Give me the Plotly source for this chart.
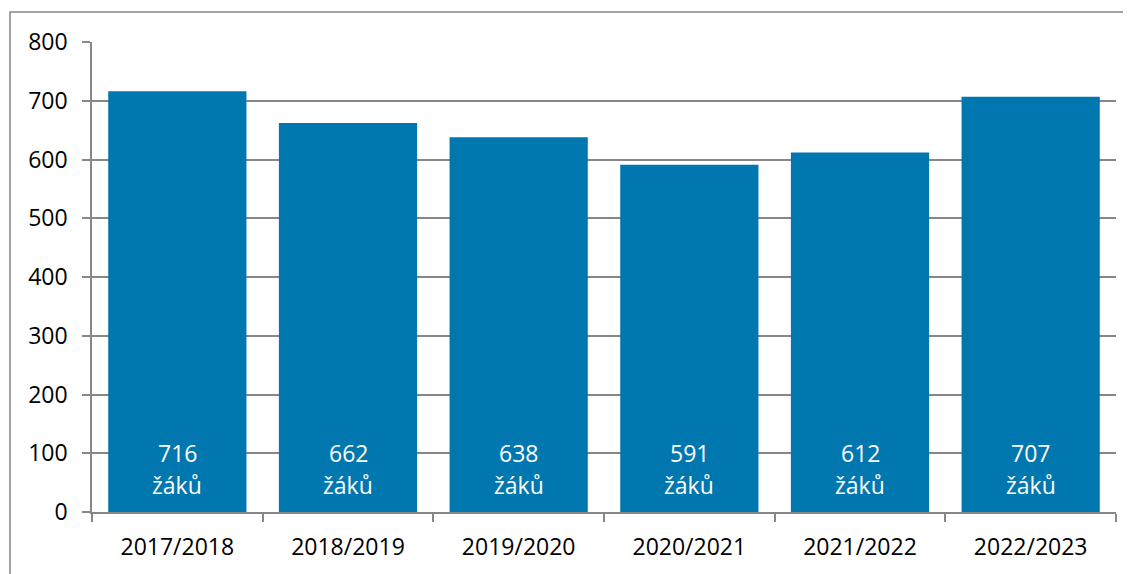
import plotly.graph_objects as go

years = ["2017/2018", "2018/2019", "2019/2020", "2020/2021", "2021/2022", "2022/2023"]
students = [716, 662, 638, 591, 612, 707]
unit_label = "žáků"
y_ticks = [0, 100, 200, 300, 400, 500, 600, 700, 800]

FONT = "Open Sans"
GRAY = "#878787"

fig = go.Figure()
fig.add_trace(go.Bar(
    x=years, y=students,
    marker=dict(color="#0077ae", line=dict(width=0)),
    hoverinfo="x+y",
))

for yr, v in zip(years, students):
    fig.add_annotation(x=yr, y=0, text=str(v), showarrow=False, yanchor="middle",
                       yshift=59, font=dict(family=FONT, size=23, color="white"))
    fig.add_annotation(x=yr, y=0, text=unit_label, showarrow=False, yanchor="middle",
                       yshift=27, font=dict(family=FONT, size=23, color="white"))

fig.update_layout(
    width=1123, height=566,
    margin=dict(l=84, r=15, t=34, b=62),
    paper_bgcolor="white", plot_bgcolor="white",
    bargap=0.19,
    showlegend=False,
    font=dict(family=FONT, size=23, color="black"),
    xaxis=dict(
        type="category", showgrid=False,
        showline=True, linecolor=GRAY, linewidth=1.5,
        ticks="outside", tickson="boundaries", ticklen=8, tickcolor=GRAY, tickwidth=1.5,
        ticklabelstandoff=14,
    ),
    yaxis=dict(
        range=[0, 800], tickvals=y_ticks,
        showgrid=True, gridcolor=GRAY, gridwidth=1.5,
        showline=True, linecolor=GRAY, linewidth=1.5,
        ticks="outside", ticklen=8, tickcolor=GRAY, tickwidth=1.5,
        ticklabelstandoff=10, zeroline=False,
    ),
    shapes=[dict(type="rect", xref="paper", yref="paper",
                 x0=(10 - 92) / 1024, x1=1.3, y0=-0.5, y1=1 + 30 / 470,
                 line=dict(color=GRAY, width=1.5), fillcolor="rgba(0,0,0,0)", layer="below")],
)

fig.write_html("out.html")
